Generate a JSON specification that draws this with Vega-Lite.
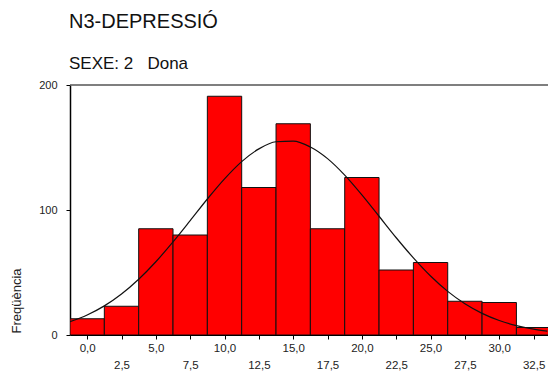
{
  "$schema": "https://vega.github.io/schema/vega-lite/v6.json",
  "width": 478,
  "height": 250,
  "autosize": {"type": "none"},
  "padding": {"left": 70, "top": 85, "right": 0, "bottom": 39},
  "background": "white",
  "config": {
    "view": {"stroke": null},
    "font": "Liberation Sans",
    "axis": {"grid": false, "domainColor": "black", "tickColor": "black", "labelColor": "#222", "titleColor": "#222", "labelFont": "Liberation Sans", "titleFont": "Liberation Sans", "titleFontWeight": "normal"}
  },
  "title": {
    "text": "N3-DEPRESSIÓ",
    "subtitle": "SEXE: 2\u00a0\u00a0\u00a0Dona",
    "anchor": "start",
    "frame": "group",
    "font": "Liberation Sans",
    "fontSize": 20,
    "fontWeight": "normal",
    "color": "#111",
    "subtitleFont": "Liberation Sans",
    "subtitleFontSize": 17,
    "subtitleColor": "#111",
    "subtitlePadding": 24,
    "offset": 7,
    "dx": -1
  },
  "resolve": {"axis": {"x": "independent"}},
  "datasets": {
    "bars": [
      {"lo": -1.25, "hi": 1.25, "n": 13},
      {"lo": 1.25, "hi": 3.75, "n": 23},
      {"lo": 3.75, "hi": 6.25, "n": 85},
      {"lo": 6.25, "hi": 8.75, "n": 80},
      {"lo": 8.75, "hi": 11.25, "n": 191},
      {"lo": 11.25, "hi": 13.75, "n": 118},
      {"lo": 13.75, "hi": 16.25, "n": 169},
      {"lo": 16.25, "hi": 18.75, "n": 85},
      {"lo": 18.75, "hi": 21.25, "n": 126},
      {"lo": 21.25, "hi": 23.75, "n": 52},
      {"lo": 23.75, "hi": 26.25, "n": 58},
      {"lo": 26.25, "hi": 28.75, "n": 27},
      {"lo": 28.75, "hi": 31.25, "n": 26},
      {"lo": 31.25, "hi": 33.75, "n": 6}
    ],
    "curve": [
      {"x": -1.25, "y": 10.6}, {"x": 0, "y": 16.0}, {"x": 1.25, "y": 23.3}, {"x": 2.5, "y": 32.8},
      {"x": 3.75, "y": 44.6}, {"x": 5, "y": 58.6}, {"x": 6.25, "y": 74.5}, {"x": 7.5, "y": 91.5},
      {"x": 8.75, "y": 108.8}, {"x": 10, "y": 124.9}, {"x": 11.25, "y": 138.7}, {"x": 12.5, "y": 148.9},
      {"x": 13.75, "y": 154.6}, {"x": 15, "y": 155.1}, {"x": 16.25, "y": 150.4}, {"x": 17.5, "y": 141.1},
      {"x": 18.75, "y": 127.9}, {"x": 20, "y": 112.1}, {"x": 21.25, "y": 95.0}, {"x": 22.5, "y": 77.8},
      {"x": 23.75, "y": 61.7}, {"x": 25, "y": 47.2}, {"x": 26.25, "y": 34.9}, {"x": 27.5, "y": 25.0},
      {"x": 28.75, "y": 17.3}, {"x": 30, "y": 11.6}, {"x": 31.25, "y": 7.5}, {"x": 32.5, "y": 4.7},
      {"x": 33.5, "y": 3.1}
    ],
    "top": [{"v": 200}]
  },
  "layer": [
    {
      "data": {"name": "bars"},
      "mark": {"type": "rect", "fill": "#ff0000", "stroke": "#111", "strokeWidth": 1, "clip": true},
      "encoding": {
        "x": {
          "field": "lo", "type": "quantitative",
          "scale": {"domain": [-1.25, 33.55], "nice": false, "zero": false},
          "axis": {
            "title": null,
            "orient": "bottom",
            "values": [0, 2.5, 5, 7.5, 10, 12.5, 15, 17.5, 20, 22.5, 25, 27.5, 30, 32.5],
            "labelExpr": "datum.value % 5 == 0 ? replace(format(datum.value, '.1f'), '.', ',') : ''",
            "labelFontSize": 11.5,
            "labelPadding": 3,
            "tickSize": 4,
            "labelFlush": false,
            "labelOverlap": false,
            "labelBound": false,
            "domainWidth": 1.2
          }
        },
        "x2": {"field": "hi"},
        "y": {
          "field": "n", "type": "quantitative",
          "scale": {"domain": [0, 200], "nice": false},
          "axis": {
            "title": "Freqüència",
            "values": [0, 100, 200],
            "labelFontSize": 11,
            "labelPadding": 9,
            "tickSize": 4,
            "domainWidth": 1.5,
            "titleFontSize": 13,
            "titleAngle": -90,
            "titleAlign": "left",
            "titleBaseline": "alphabetic",
            "titleX": -50,
            "titleY": 248
          }
        },
        "y2": {"datum": 0}
      }
    },
    {
      "data": {"name": "curve"},
      "mark": {"type": "line", "color": "#111", "strokeWidth": 1.2, "interpolate": "monotone", "clip": true},
      "encoding": {
        "x": {
          "field": "x", "type": "quantitative",
          "axis": {
            "title": null,
            "orient": "bottom",
            "values": [2.5, 7.5, 12.5, 17.5, 22.5, 27.5, 32.5],
            "labelExpr": "replace(format(datum.value, '.1f'), '.', ',')",
            "labelFontSize": 11.5,
            "labelPadding": 24,
            "ticks": false,
            "domain": false,
            "labelFlush": false,
            "labelOverlap": false,
            "labelBound": false
          }
        },
        "y": {"field": "y", "type": "quantitative"}
      }
    },
    {
      "data": {"name": "top"},
      "mark": {"type": "rule", "color": "#555", "strokeWidth": 1.5},
      "encoding": {
        "y": {"field": "v", "type": "quantitative"}
      }
    }
  ]
}
